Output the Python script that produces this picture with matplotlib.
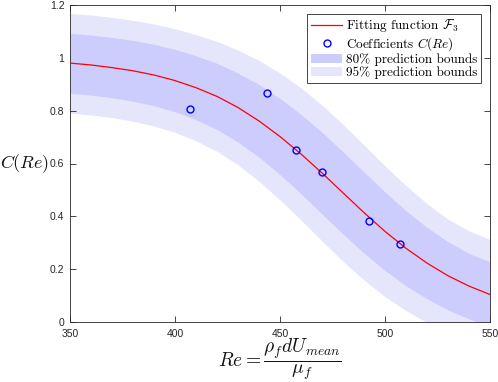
import matplotlib
matplotlib.use("Agg")
import matplotlib.pyplot as plt
from matplotlib.patches import Patch
from matplotlib.lines import Line2D

plt.rcParams["mathtext.fontset"] = "cm"
plt.rcParams["font.family"] = ["Liberation Sans", "DejaVu Sans"]

# measured coefficients
re_pts = [407.1, 443.8, 457.6, 470.0, 492.4, 507.1]
c_pts = [0.806, 0.867, 0.651, 0.568, 0.384, 0.295]

# fitted curve and prediction bounds
re_grid = [350, 360, 370, 380, 390, 400, 410, 420, 430, 440, 450,
           460, 470, 480, 490, 500, 510, 520, 530, 540, 550]
c_fit = [0.980, 0.973, 0.963, 0.951, 0.935, 0.914, 0.887, 0.854, 0.812, 0.761, 0.702,
         0.636, 0.564, 0.489, 0.414, 0.343, 0.279, 0.223, 0.175, 0.136, 0.104]
hi80 = [1.093, 1.086, 1.077, 1.066, 1.051, 1.032, 1.008, 0.979, 0.942, 0.899, 0.846,
        0.786, 0.718, 0.644, 0.568, 0.492, 0.421, 0.358, 0.304, 0.259, 0.228]
lo80 = [0.866, 0.859, 0.849, 0.836, 0.819, 0.796, 0.766, 0.729, 0.681, 0.624, 0.558,
        0.486, 0.409, 0.333, 0.261, 0.195, 0.137, 0.088, 0.046, 0.012, -0.016]
hi95 = [1.168, 1.162, 1.153, 1.142, 1.128, 1.110, 1.088, 1.062, 1.029, 0.990, 0.942,
        0.886, 0.821, 0.748, 0.670, 0.591, 0.516, 0.448, 0.389, 0.345, 0.312]
lo95 = [0.791, 0.784, 0.774, 0.760, 0.742, 0.718, 0.686, 0.646, 0.595, 0.533, 0.462,
        0.386, 0.307, 0.230, 0.159, 0.096, 0.043, -0.002, -0.039, -0.070, -0.096]

xticks = [350, 400, 450, 500, 550]
yticks = [0, 0.2, 0.4, 0.6, 0.8, 1.0, 1.2]
ytick_labels = ["0", "0.2", "0.4", "0.6", "0.8", "1", "1.2"]

light = "#e5e5fc"
dark = "#ccccfd"
axcol = "#262626"

fig = plt.figure(figsize=(4.98, 3.82), dpi=100)
ax = fig.add_axes([70 / 498, 1 - 322 / 382, 420 / 498, 317 / 382])

ax.fill_between(re_grid, lo95, hi95, color=light, lw=0, zorder=1)
ax.fill_between(re_grid, lo80, hi80, color=dark, lw=0, zorder=2)
ax.plot(re_grid, c_fit, color="#ff0000", lw=0.9, zorder=3)
ax.plot(re_pts, c_pts, "o", mfc="none", mec="#0000ff", mew=1.0, ms=5, zorder=4)

ax.set_xlim(350, 550)
ax.set_ylim(0, 1.2)
ax.set_xticks(xticks)
ax.set_yticks(yticks)
ax.set_yticklabels(ytick_labels)
ax.tick_params(direction="in", length=4, width=0.6, colors=axcol, labelsize=7.5,
               top=True, right=True, pad=4)
ax.tick_params(axis="x", pad=5)
for s in ax.spines.values():
    s.set_color(axcol)
    s.set_linewidth(0.6)

ax.set_ylabel(r"$C(Re)$", fontsize=13, rotation=0, color="#111111")
ax.yaxis.set_label_coords(-0.108, 0.5)
ax.yaxis.label.set_va("center")
ax.yaxis.label.set_ha("center")
ax.set_xlabel(r"$Re = \dfrac{\rho_f dU_{mean}}{\mu_f}$", fontsize=14, color="#111111")
ax.xaxis.set_label_coords(0.5, -0.116)
ax.xaxis.label.set_va("center")

handles = [
    Line2D([], [], color="#ff0000", lw=0.9),
    Line2D([], [], ls="none", marker="o", mfc="none", mec="#0000ff", mew=1.0, ms=5),
    Patch(facecolor=dark, edgecolor="none"),
    Patch(facecolor=light, edgecolor="none"),
]
labels = [r"Fitting function $\mathcal{F}_3$", r"Coefficients $C(Re)$",
          r"80% prediction bounds", r"95% prediction bounds"]
leg = ax.legend(handles, labels, loc="upper right", bbox_to_anchor=(0.985, 0.98),
                prop={"family": "cmr10", "size": 9.5}, fancybox=False, framealpha=1,
                edgecolor=axcol, borderpad=0.25, labelspacing=0.05, handlelength=2.4,
                handletextpad=0.3, borderaxespad=0.2)
leg.get_frame().set_linewidth(0.6)

fig.savefig("out.png", dpi=100)
